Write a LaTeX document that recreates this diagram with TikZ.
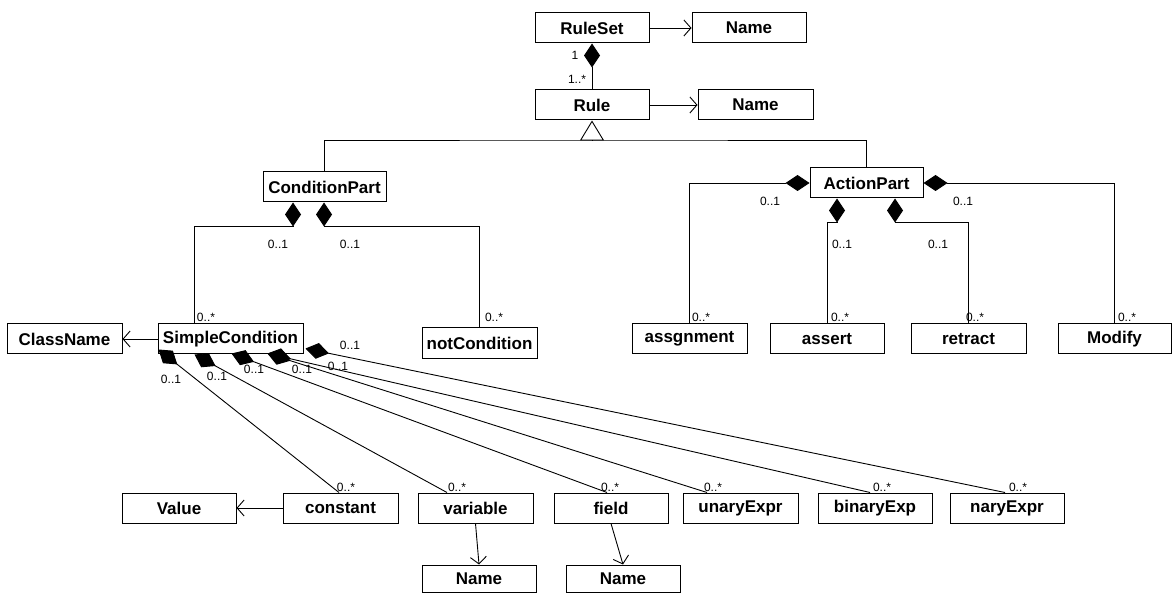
\documentclass[tikz,border=0pt]{standalone}
\usepackage{fontspec}
\setmainfont{Liberation Sans}
\usetikzlibrary{arrows.meta,calc}

\tikzset{
  cls/.style={draw, line width=1pt, minimum height=30pt, inner sep=0pt,
    font=\bfseries\fontsize{17}{20}\selectfont},
  mult/.style={font=\fontsize{12}{14}\selectfont, inner sep=0pt},
  assoc/.style={line width=0.9pt},
  nav/.style={assoc, -{Straight Barb[length=7pt,width=16pt,line width=0.9pt]}},
  comp/.style={assoc, {Diamond[length=24pt,width=16pt]}-},
  gen/.style={assoc, -{Triangle[open,length=20pt,width=24pt,line width=0.9pt]}},
}

\begin{document}
\begin{tikzpicture}[x=1pt,y=-1pt]
\useasboundingbox (0,0) rectangle (1172,593);

% classes
\node[cls, minimum width=114pt] (rs)   at (592,28)    {RuleSet};
\node[cls, minimum width=114pt] (n1)   at (749,28)    {Name};
\node[cls, minimum width=114pt] (rule) at (592,105)   {Rule};
\node[cls, minimum width=115pt] (n2)   at (755.5,105) {Name};
\node[cls, minimum width=123pt] (cp)   at (324.5,187) {ConditionPart};
\node[cls, minimum width=113pt] (ap)   at (866.5,183) {ActionPart};
\node[cls, minimum width=145pt] (sc)   at (230.5,339) {SimpleCondition};
\node[cls, minimum width=115pt] (cn)   at (64.5,339)  {ClassName};
\node[cls, minimum width=115pt] (nc)   at (479.5,343) {notCondition};
\node[cls, minimum width=115pt] (asg)  at (689.5,339) {assgnment};
\node[cls, minimum width=114pt] (ast)  at (827,339)   {assert};
\node[cls, minimum width=115pt] (ret)  at (968.5,339) {retract};
\node[cls, minimum width=113pt] (mod)  at (1114.5,339){Modify};
\node[cls, minimum width=114pt] (val)  at (179,508)   {Value};
\node[cls, minimum width=115pt] (con)  at (340.5,508) {constant};
\node[cls, minimum width=115pt] (var)  at (475.5,508) {variable};
\node[cls, minimum width=114pt] (fld)  at (611,508)   {field};
\node[cls, minimum width=115pt] (un)   at (740.5,508) {unaryExpr};
\node[cls, minimum width=114pt] (bin)  at (875,508)   {binaryExp};
\node[cls, minimum width=114pt] (nary) at (1007,508)  {naryExpr};
\node[cls, minimum width=114pt, minimum height=27pt] (nv) at (479,578.5) {Name};
\node[cls, minimum width=114pt, minimum height=27pt] (nf) at (623,578.5) {Name};

% navigable associations
\draw[nav] (rs) -- (n1);
\draw[nav] (rule) -- (n2);
\draw[nav] (sc) -- (cn);
\draw[nav] (con) -- (val);
\draw[nav] (var.south) -- (nv.north);
\draw[nav] (fld.south) -- (nf.north);

% RuleSet owns Rules
\draw[comp] (rs.south) -- (rule.north);

% generalisation of Rule
\coordinate (g) at (592,140);
\draw[assoc] (cp.north) |- (g) -| (ap.north);
\draw[gen] (g) -- (rule.south);

% ConditionPart compositions
\draw[comp] ([xshift=-31.5pt]cp.south) -- ++(0,24) -| ([xshift=-36.5pt]sc.north);
\draw[comp] ([xshift=-0.5pt]cp.south) -- ++(0,24) -| (nc.north);

% ActionPart compositions
\draw[comp] (ap.west) -| (asg.north);
\draw[comp] (ap.east) -| (mod.north);
\draw[comp] ([xshift=-29.5pt]ap.south) -- ++(0,24) -| (ast.north);
\draw[comp] ([xshift=28.5pt]ap.south) -- ++(0,24) -| (ret.north);

% SimpleCondition compositions
\draw[comp] ($(sc.south west)+(1,-5)$)   -- ([xshift=-1.5pt]con.north);
\draw[comp] ($(sc.south west)+(37,0)$)   -- ([xshift=-28.5pt]var.north);
\draw[comp] ($(sc.south west)+(74,-1)$)  -- ([xshift=-4pt]fld.north);
\draw[comp] ($(sc.south west)+(110,-1)$) -- ([xshift=-33.5pt]un.north);
\draw[comp] ($(sc.south west)+(110,-1)$) -- ([xshift=-5pt]bin.north);
\draw[comp] ($(sc.south east)+(2,-6)$)   -- ([xshift=-2pt]nary.north);

% multiplicities
\node[mult] (m1)  at (575,55)   {1};
\node[mult] (m2)  at (577,79)   {1..*};
\node[mult] (m3)  at (278,244)  {0..1};
\node[mult] (m4)  at (350,244)  {0..1};
\node[mult] (m5)  at (206,317)  {0..*};
\node[mult] (m6)  at (494,317)  {0..*};
\node[mult] (m7)  at (770,201)  {0..1};
\node[mult] (m8)  at (963,201)  {0..1};
\node[mult] (m9)  at (842,244)  {0..1};
\node[mult] (m10) at (938,244)  {0..1};
\node[mult] (m11) at (701,317)  {0..*};
\node[mult] (m12) at (840,317)  {0..*};
\node[mult] (m13) at (975,317)  {0..*};
\node[mult] (m14) at (1127,317) {0..*};
\node[mult] (m15) at (171,379)  {0..1};
\node[mult] (m16) at (217,376)  {0..1};
\node[mult] (m17) at (254,369)  {0..1};
\node[mult] (m18) at (302,369)  {0..1};
\node[mult] (m19) at (338,366)  {0..1};
\node[mult] (m20) at (350,345)  {0..1};
\node[mult] (m21) at (346,487)  {0..*};
\node[mult] (m22) at (457,487)  {0..*};
\node[mult] (m23) at (610,487)  {0..*};
\node[mult] (m24) at (713,487)  {0..*};
\node[mult] (m25) at (882,487)  {0..*};
\node[mult] (m26) at (1018,487) {0..*};
\end{tikzpicture}
\end{document}
